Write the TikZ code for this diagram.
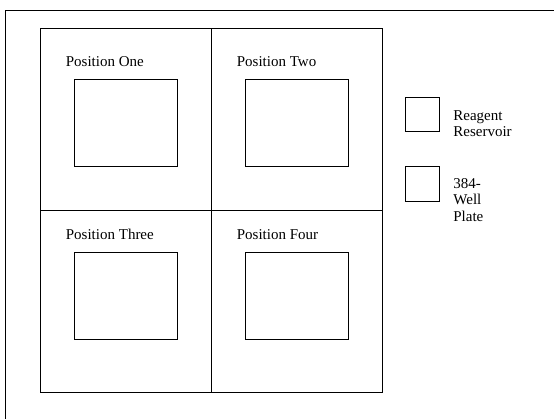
\documentclass[tikz,border=0pt]{standalone}
\usepackage{fontspec}
\setmainfont{Liberation Serif}
\usetikzlibrary{positioning}

\begin{document}
\begin{tikzpicture}[x=1pt, y=-1pt,
    frame/.style={draw, line width=0.9pt},
    cell/.style={draw, line width=0.9pt, inner sep=0pt, outer sep=0pt, minimum width=171pt, minimum height=182pt},
    plate/.style={draw, line width=0.9pt, inner sep=0pt, outer sep=0pt, minimum width=103.4pt, minimum height=86.7pt},
    small/.style={draw, line width=0.9pt, inner sep=0pt, outer sep=0pt, minimum width=34pt, minimum height=34.5pt},
    lbl/.style={inner sep=0pt, font=\fontsize{15}{16.5}\selectfont},
    side/.style={inner sep=0pt, align=left, font=\fontsize{15}{16.5}\selectfont}]
    \useasboundingbox (0,0) rectangle (554,419);
    \clip (0,0) rectangle (554,419);

    % Outer frame
    \draw[frame] (5,10) rectangle (580,450);

    % Deck positions
    \node[cell] (cellone) at (126,119) {};
    \node[cell] (celltwo) at (297,119) {};
    \node[cell] (cellthree) at (126,301) {};
    \node[cell] (cellfour) at (297,301) {};

    % Plates
    \node[plate] (plateone) at (126,123.3) {};
    \node[plate] (platetwo) at (297,123.3) {};
    \node[plate] (platethree) at (126,296.3) {};
    \node[plate] (platefour) at (297,296.3) {};

    \node[lbl, anchor=base west] (lblone) at ([xshift=-8.6pt, yshift=13.5pt]plateone.north west) {Position One};
    \node[lbl, anchor=base west] (lbltwo) at ([xshift=-8.6pt, yshift=13.5pt]platetwo.north west) {Position Two};
    \node[lbl, anchor=base west] (lblthree) at ([xshift=-8.6pt, yshift=13.5pt]platethree.north west) {Position Three};
    \node[lbl, anchor=base west] (lblfour) at ([xshift=-8.6pt, yshift=13.5pt]platefour.north west) {Position Four};

    % Legend
    \node[small] (reservoir) at (422.2,114.7) {};
    \node[small] (wellplate) at (422.2,184) {};
    \node[side, anchor=north west] (lblres) at ([xshift=14pt, yshift=-13pt]reservoir.north east) {Reagent\\Reservoir};
    \node[side, anchor=north west] (lblwell) at ([xshift=14pt, yshift=-11.5pt]wellplate.north east) {384-\\Well\\Plate};
\end{tikzpicture}
\end{document}
